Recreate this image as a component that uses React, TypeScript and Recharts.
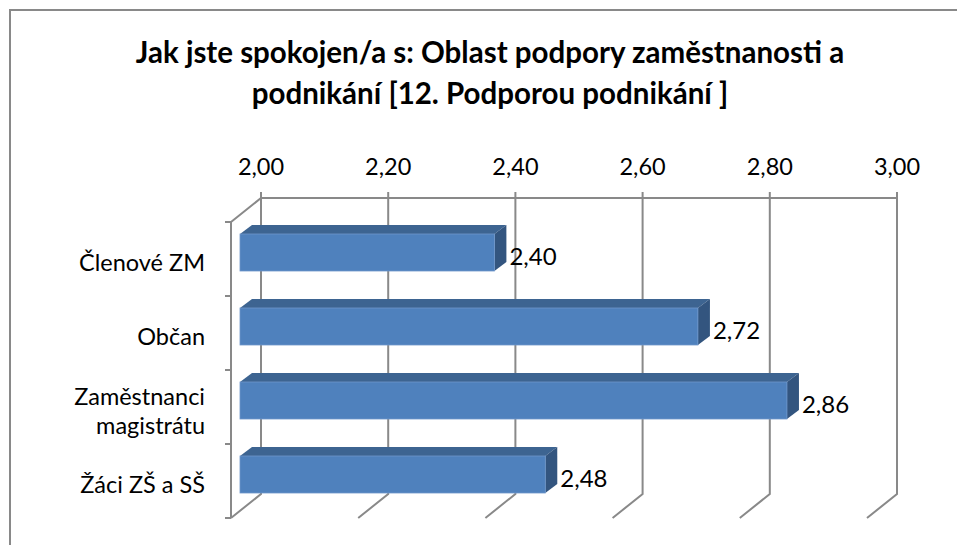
import { Bar, BarChart, CartesianGrid, LabelList, XAxis, YAxis } from 'recharts';

const categories = ['Členové ZM', 'Občan', 'Zaměstnanci magistrátu', 'Žáci ZŠ a SŠ'];
const scores = [2.4, 2.72, 2.86, 2.48];
const xTicks = [2, 2.2, 2.4, 2.6, 2.8, 3];
const titleLines = ['Jak jste spokojen/a s: Oblast podpory zaměstnanosti a', 'podnikání [12. Podporou podnikání ]'];

const data = categories.map((name, i) => ({ name, value: scores[i] }));

const W = 957;
const H = 545;
// front edge of the 3d floor = recharts plot area
const PLOT_LEFT = 231;
const PLOT_TOP = 222;
const PLOT_RIGHT = 867;
const PLOT_BOTTOM = 518;
const DX = 30; // depth of the back wall
const DY = 24;
const Y_AXIS_W = 200;
const X_AXIS_H = 60;
const LINE = '#898989';
const FONT = 'Lato, "Noto Sans", sans-serif';
const LABEL_SIZE = 23.5;

const fmt = (v: number) => v.toFixed(2).replace('.', ',');

const gridLine = (props: any) => {
  const { x1, y1, y2 } = props;
  const first = Math.abs(x1 - PLOT_LEFT) < 1;
  return (
    <g key={`grid-${x1}`}>
      <polyline
        points={`${x1 + DX},${y1 - DY} ${x1 + DX},${y2 - DY} ${x1},${y2}`}
        fill="none"
        stroke={LINE}
        strokeWidth={2}
      />
      {first && (
        <polyline
          points={`${x1},${y1} ${x1 + DX},${y1 - DY} ${PLOT_RIGHT + DX},${y1 - DY}`}
          fill="none"
          stroke={LINE}
          strokeWidth={2}
        />
      )}
    </g>
  );
};

const XTick = ({ x, payload }: any) => (
  <g>
    <line x1={x + DX} y1={PLOT_TOP - DY - 6} x2={x + DX} y2={PLOT_TOP - DY} stroke={LINE} strokeWidth={2} />
    <text x={x + DX} y={PLOT_TOP - DY - 23} textAnchor="middle" fontFamily={FONT} fontSize={LABEL_SIZE} fill="#000">
      {fmt(payload.value)}
    </text>
  </g>
);

const YTick = ({ y, payload, index }: any) => {
  const band = (PLOT_BOTTOM - PLOT_TOP) / categories.length;
  const label: string = payload.value;
  const lines = label.length > 14 ? [label.slice(0, label.indexOf(' ')), label.slice(label.indexOf(' ') + 1)] : [label];
  const lh = 29;
  const startY = y + 3 - ((lines.length - 1) * lh) / 2;
  return (
    <g>
      <line x1={PLOT_LEFT - 6} y1={y - band / 2} x2={PLOT_LEFT} y2={y - band / 2} stroke={LINE} strokeWidth={2} />
      {index === categories.length - 1 && (
        <line x1={PLOT_LEFT - 6} y1={y + band / 2} x2={PLOT_LEFT} y2={y + band / 2} stroke={LINE} strokeWidth={2} />
      )}
      <text x={PLOT_LEFT - 26} y={startY} textAnchor="end" dominantBaseline="central" fontFamily={FONT} fontSize={LABEL_SIZE} fill="#000">
        {lines.map((l, i) => (
          <tspan key={i} x={PLOT_LEFT - 26} y={startY + i * lh}>
            {l}
          </tspan>
        ))}
      </text>
    </g>
  );
};

// bar sits a little behind the floor front edge
const BX = 9;
const BY = 7;
const DEPTH_X = 12;
const DEPTH_Y = 9;

const Bar3D = (props: any) => {
  const { x, y, width, height } = props;
  const fx = x + BX;
  const fy = y - BY;
  return (
    <g>
      <polygon
        points={`${fx},${fy} ${fx + width},${fy} ${fx + width + DEPTH_X},${fy - DEPTH_Y} ${fx + DEPTH_X},${fy - DEPTH_Y}`}
        fill="#3d6491"
      />
      <polygon
        points={`${fx + width},${fy} ${fx + width + DEPTH_X},${fy - DEPTH_Y} ${fx + width + DEPTH_X},${fy - DEPTH_Y + height} ${fx + width},${fy + height}`}
        fill="#33557f"
      />
      <rect x={fx} y={fy} width={width} height={height} fill="#4f81bd" stroke="#6f97cb" strokeWidth={0.8} />
    </g>
  );
};

const ValueLabel = (props: any) => {
  const { x, y, width, height, value } = props;
  return (
    <text
      x={x + width + BX + DEPTH_X + 3}
      y={y - BY + height / 2 + 3}
      dominantBaseline="central"
      fontFamily={FONT}
      fontSize={LABEL_SIZE + 0.5}
      fill="#000"
    >
      {fmt(value)}
    </text>
  );
};

export default function App() {
  return (
    <div style={{ position: 'absolute', left: 0, top: 0, width: W, height: H, overflow: 'hidden', background: '#fff' }}>
      <div
        style={{
          position: 'absolute',
          left: 9,
          top: 9,
          width: 1000,
          height: 600,
          border: `2px solid ${LINE}`,
        }}
      />
      <div
        style={{
          position: 'absolute',
          left: 0,
          top: 31,
          width: 980,
          textAlign: 'center',
          fontFamily: FONT,
          fontWeight: 700,
          fontSize: 29.5,
          lineHeight: '41px',
        }}
      >
        {titleLines.map((t) => (
          <div key={t}>{t}</div>
        ))}
      </div>
      <div style={{ position: 'absolute', left: 0, top: 0 }}>
        <BarChart
          width={W}
          height={H}
          data={data}
          layout="vertical"
          margin={{
            top: PLOT_TOP - X_AXIS_H,
            left: PLOT_LEFT - Y_AXIS_W,
            right: W - PLOT_RIGHT,
            bottom: H - PLOT_BOTTOM,
          }}
        >
          <CartesianGrid horizontal={false} vertical={gridLine} />
          <XAxis
            type="number"
            orientation="top"
            domain={[2, 3]}
            allowDataOverflow
            ticks={xTicks}
            interval={0}
            height={X_AXIS_H}
            axisLine={false}
            tickLine={false}
            tick={<XTick />}
          />
          <YAxis
            type="category"
            dataKey="name"
            width={Y_AXIS_W}
            interval={0}
            axisLine={{ stroke: LINE, strokeWidth: 2 }}
            tickLine={false}
            tick={<YTick />}
          />
          <Bar dataKey="value" barSize={37} shape={<Bar3D />} isAnimationActive={false}>
            <LabelList dataKey="value" content={<ValueLabel />} />
          </Bar>
        </BarChart>
      </div>
    </div>
  );
}
